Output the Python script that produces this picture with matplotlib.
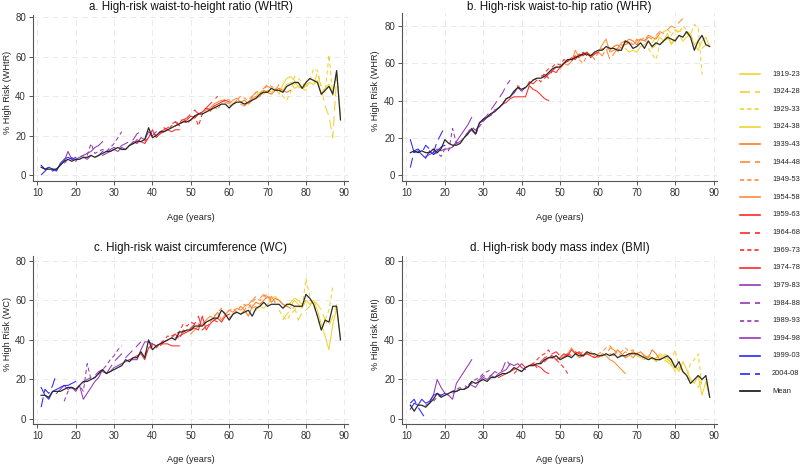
import matplotlib
matplotlib.use("Agg")
import matplotlib.pyplot as plt
from matplotlib.lines import Line2D
import numpy as np

plt.rcParams['font.family'] = ['Liberation Sans', 'DejaVu Sans']
plt.rcParams['lines.scale_dashes'] = False

# ---------------- data ----------------
ages = list(range(11, 90))
cohorts = ["1919-23", "1924-28", "1929-33", "1924-38", "1939-43", "1944-48", "1949-53",
           "1954-58", "1959-63", "1964-68", "1969-73", "1974-78", "1979-83", "1984-88",
           "1989-93", "1994-98", "1999-03", "2004-08"]
cohort_start = [76, 74, 73, 67, 63, 60, 55, 50, 46, 42, 38, 34, 27, 22, 17, 15, 11, 11]

whtr_mean = [4, 3, 3, 3, 3, 5, 7, 8, 7, 8, 8, 9, 9, 10, 9, 10, 11, 12, 12, 13,
             14, 13, 13, 15, 16, 17, 17, 18, 24, 19, 20, 22, 22, 23, 24, 25, 26, 27, 27, 28,
             30, 31, 31, 32, 33, 34, 35, 36, 36, 34, 36, 37, 37, 36, 37, 38, 39, 41, 42, 42,
             44, 43, 43, 42, 45, 46, 47, 47, 44, 47, 49, 48, 47, 41, 43, 45, 41, 53, 28]
whr_mean = [12, 13, 12, 13, 12, 12, 14, 12, 14, 19, 17, 16, 16, 17, 20, 22, 25, 22, 28, 30,
            31, 33, 34, 36, 38, 41, 42, 45, 47, 46, 47, 49, 51, 52, 52, 53, 55, 57, 58, 58,
            60, 62, 62, 63, 64, 65, 65, 64, 66, 67, 67, 69, 68, 68, 67, 67, 72, 71, 68, 69,
            71, 68, 72, 69, 71, 70, 72, 74, 73, 72, 75, 74, 77, 74, 67, 72, 75, 70, 69]
wc_mean = [12, 12, 11, 14, 14, 14, 15, 16, 16, 15, 17, 19, 19, 20, 21, 23, 25, 23, 24, 25,
           26, 27, 30, 29, 31, 31, 34, 31, 40, 35, 37, 38, 39, 40, 41, 40, 44, 44, 45, 45,
           47, 47, 47, 49, 50, 51, 51, 55, 53, 50, 53, 54, 53, 54, 55, 52, 56, 57, 59, 57,
           58, 58, 58, 56, 58, 58, 57, 57, 57, 63, 61, 58, 52, 45, 50, 49, 57, 57, 40]
bmi_mean = [7, 4, 7, 7, 6, 8, 10, 13, 11, 12, 13, 14, 14, 15, 15, 16, 19, 18, 19, 20,
            19, 21, 21, 22, 23, 23, 24, 26, 25, 24, 26, 27, 27, 28, 28, 30, 31, 31, 32, 30,
            31, 32, 31, 33, 32, 32, 34, 33, 33, 32, 32, 33, 32, 33, 31, 32, 32, 33, 33, 33,
            32, 31, 30, 31, 30, 30, 31, 32, 30, 26, 29, 24, 22, 18, 20, 22, 20, 22, 11]

whtr_cohorts = [
    [47, 46, 47, 44, 45, 47, 46, 48, 41, 44, 46, 42, 52, 30],
    [43, 46, 47, 44, 45, 43, 46, 47, 46, 52, 44, 35, 30, 19, 50],
    [44, 40, 38, 42, 50, 49, 47, 44, 48, 54, 53, 45, 42, 61, 40],
    [40, 42, 41, 43, 42, 44, 41, 46, 49, 50, 48, 45, 44, 43],
    [37, 38, 36, 38, 39, 40, 43, 42, 41, 43, 44, 43, 42, 43],
    [35, 36, 38, 36, 35, 37, 40, 42, 43, 44, 45, 44, 43, 46],
    [32, 35, 33, 37, 39, 38, 36, 38, 40, 39, 38, 40, 42, 41, 44, 46, 45, 44],
    [28, 29, 31, 32, 33, 34, 36, 37, 38, 37, 36, 38, 39, 37, 36, 37, 39, 40],
    [25, 26, 27, 28, 30, 29, 31, 32, 34, 33, 35, 36, 37, 38, 37],
    [22, 23, 24, 26, 27, 25, 28, 29, 31, 33, 31, 32, 34, 36, 38, 40],
    [17, 19, 22, 20, 21, 24, 23, 25, 27, 26, 29, 26, 28, 30, 25, 31, 32],
    [15, 16, 18, 17, 16, 19, 23, 19, 21, 22, 23, 22, 23, 23],
    [10, 11, 12, 13, 12, 14, 13, 15, 17, 16, 19, 18, 22, 20, 22],
    [9, 8, 10, 9, 10, 12, 11, 13, 14, 13, 15, 16, 17, 18, 21, 22],
    [6, 8, 9, 7, 9, 10, 10, 16, 11, 12, 13, 12, 14, 16, 19, 22],
    [3, 5, 7, 12, 8, 8, 9, 10, 11, 12, 14, 15, 17],
    [5, 3, 4, 3, 2, 6, 8, 9, 8, 9],
    [0, 2, 4, 2, 3, 5],
]
whr_cohorts = [
    [70, 72, 74, 71, 73, 75, 72, 74, 76, 70, 67, 72, 74, 69],
    [71, 74, 75, 77, 78, 76, 78, 77, 79, 76, 74, 70, 72, 68, 70],
    [68, 65, 62, 70, 72, 73, 75, 78, 76, 80, 78, 75, 81, 79, 54],
    [68, 66, 67, 66, 69, 70, 72, 68, 70, 74, 72, 76, 70, 73],
    [67, 69, 70, 68, 71, 73, 72, 70, 73, 72, 75, 74, 73, 76],
    [66, 64, 68, 62, 65, 68, 69, 70, 71, 69, 72, 73, 71, 74, 73, 75, 77, 76, 78, 80, 79, 82, 84],
    [62, 60, 64, 65, 62, 66, 68, 67, 69, 68, 66, 70, 69, 72, 70, 73, 72, 74],
    [57, 60, 59, 61, 67, 63, 65, 66, 64, 65, 66, 70, 73, 66, 67, 68, 71, 72],
    [52, 54, 56, 55, 58, 60, 61, 63, 62, 65, 64, 66, 63, 65, 66],
    [50, 49, 51, 53, 54, 52, 56, 58, 57, 60, 62, 61, 64, 63, 66, 64],
    [44, 48, 46, 47, 50, 51, 52, 50, 55, 57, 58, 60, 59, 62, 61, 63, 64],
    [36, 38, 39, 41, 42, 42, 42, 42, 48, 46, 45, 43, 41, 40],
    [24, 22, 28, 29, 31, 32, 35, 36, 38, 41, 42, 44, 47, 45, 47],
    [15, 17, 18, 20, 23, 26, 24, 27, 30, 32, 35, 38, 41, 44, 48, 51],
    [11, 12, 10, 14, 13, 25, 17, 18, 20, 23, 24, 22, 26, 29, 31, 33],
    [10, 11, 12, 14, 13, 14, 14, 15, 18, 21, 24, 27, 31],
    [19, 12, 13, 11, 9, 13, 11, 13, 15, 16],
    [4, 13, 14, 12, 16, 14, 12, 18, 22, 26],
]
wc_cohorts = [
    [57, 60, 58, 56, 60, 58, 60, 55, 48, 42, 35, 48, 56, 41],
    [50, 53, 55, 57, 50, 54, 55, 57, 60, 58, 55, 50, 47, 52, 58],
    [55, 52, 50, 53, 55, 57, 56, 71, 62, 58, 52, 45, 50, 55, 67],
    [55, 57, 56, 58, 61, 62, 60, 58, 57, 59, 61, 60, 58, 60],
    [53, 55, 52, 57, 59, 58, 60, 62, 59, 61, 60, 58, 57, 56],
    [51, 53, 55, 57, 55, 58, 60, 62, 61, 63, 60, 62, 59, 58],
    [49, 52, 54, 56, 53, 55, 56, 54, 57, 58, 56, 59, 61, 60, 62, 63, 60, 59],
    [43, 45, 47, 48, 50, 52, 51, 54, 50, 53, 55, 54, 56, 55, 57, 58, 56, 57],
    [41, 42, 43, 44, 45, 46, 45, 52, 45, 48, 50, 51, 49, 52, 53],
    [37, 39, 40, 42, 43, 40, 45, 44, 46, 48, 52, 45, 47, 48, 50, 49],
    [33, 35, 37, 36, 38, 40, 42, 41, 43, 44, 48, 47, 49, 48, 48, 47, 49],
    [30, 31, 32, 33, 30, 36, 38, 37, 38, 38, 38, 37, 37, 37],
    [24, 23, 24, 26, 27, 28, 29, 30, 30, 30, 35, 39, 39, 38, 37],
    [18, 20, 21, 22, 24, 25, 23, 26, 29, 31, 33, 31, 33, 35, 37, 39],
    [9, 14, 16, 15, 17, 14, 28, 20, 21, 23, 25, 27, 30, 32, 35, 37],
    [13, 15, 17, 15, 16, 14, 17, 10, 13, 16, 19, 21, 25],
    [16, 12, 10, 14, 15, 16, 17, 17, 18, 19],
    [6, 15, 13, 17, 23],
]
bmi_cohorts = [
    [30, 31, 30, 29, 27, 24, 29, 25, 20, 18, 22, 12, 19, 11],
    [30, 31, 32, 30, 29, 27, 25, 26, 24, 22, 20, 18, 16, 20, 22],
    [30, 31, 29, 30, 33, 32, 30, 35, 26, 24, 22, 28, 30, 33, 16],
    [32, 33, 34, 32, 31, 30, 32, 31, 30, 33, 32, 31, 28, 24],
    [33, 32, 35, 33, 31, 32, 34, 33, 34, 32, 31, 35, 33, 30],
    [31, 33, 32, 36, 35, 33, 32, 34, 33, 31, 33, 34, 32, 31],
    [33, 34, 33, 32, 31, 33, 34, 36, 37, 35, 33, 34, 36, 34, 35, 33, 32, 31],
    [30, 32, 33, 36, 33, 31, 32, 33, 34, 32, 31, 33, 32, 30, 29, 27, 25, 23],
    [29, 31, 32, 30, 31, 33, 32, 35, 33, 34, 32, 33, 32, 31, 32],
    [27, 28, 26, 29, 31, 32, 33, 34, 32, 31, 33, 32, 34, 33, 32, 31],
    [23, 25, 24, 26, 27, 28, 30, 32, 33, 35, 31, 30, 28, 26, 23],
    [21, 22, 23, 24, 25, 26, 28, 26, 27, 28, 27, 26, 24, 23],
    [17, 16, 19, 21, 20, 22, 21, 23, 24, 25, 28, 27, 28, 26, 25],
    [13, 14, 15, 17, 16, 18, 19, 20, 22, 21, 22, 24, 23, 25, 30, 27],
    [9, 11, 12, 13, 12, 14, 15, 16, 15, 17, 19, 20, 21, 23, 24, 25],
    [7, 8, 12, 20, 16, 13, 12, 10, 18, 21, 24, 27, 30],
    [5, 8, 7, 10, 8, 9, 12, 13, 12, 13],
    [8, 10, 6, 3, 0],
]

panel_titles = ["a. High-risk waist-to-height ratio (WHtR)", "b. High-risk waist-to-hip ratio (WHR)",
                "c. High-risk waist circumference (WC)", "d. High-risk body mass index (BMI)"]
panel_ylabels = ["% High Risk (WHtR)", "% High Risk (WHR)", "% High Risk (WC)", "% High risk (BMI)"]
panel_means = [whtr_mean, whr_mean, wc_mean, bmi_mean]
panel_cohorts = [whtr_cohorts, whr_cohorts, wc_cohorts, bmi_cohorts]
xticks = [10, 20, 30, 40, 50, 60, 70, 80, 90]
yticks = [0, 20, 40, 60, 80]

# ---------------- styles ----------------
YEL = '#F2D230'
ORA1 = '#FF7A22'
ORA2 = '#FF8C3A'
RED = '#FF2A2A'
PUR = '#9438B4'
BLU = '#2828FF'
SOLID = '-'
DASH = (0, (7.2, 3.6))
SHORT = (0, (3.0, 2.2))
cohort_colors = [YEL, YEL, YEL, YEL, ORA1, ORA2, ORA2, ORA2, RED, RED, RED, RED,
                 PUR, PUR, PUR, PUR, BLU, BLU]
cohort_styles = [SOLID, DASH, SHORT, SOLID, SOLID, DASH, SHORT, SOLID, SOLID, DASH, SHORT, SOLID,
                 SOLID, DASH, SHORT, SOLID, SOLID, DASH]

W, H = 800, 466
fig = plt.figure(figsize=(W / 100, H / 100), dpi=100)

# pixel boxes: left, top, right, bottom, ylim, xlim
boxes = [
    (33, 15, 348, 181, (-3.0, 81.2), (8.88, 90.96)),
    (402, 13, 717, 181, (-3.2, 87.0), (8.83, 90.9)),
    (33, 256, 348, 424, (-2.5, 82.4), (8.88, 90.96)),
    (402, 256, 717, 424, (-2.5, 82.4), (8.83, 90.9)),
]
title_y = [7, 7, 248, 248]
xlabel_y = [218, 218, 460, 460]
ylabel_x = [8, 376, 8, 376]

for p in range(4):
    l, t, r, b, yl, xl = boxes[p]
    ax = fig.add_axes([l / W, 1 - b / H, (r - l) / W, (b - t) / H])
    ax.set_xlim(*xl)
    ax.set_ylim(*yl)
    ax.set_xticks(xticks)
    ax.set_yticks(yticks)
    ax.grid(True, color='#E6E6E6', linestyle=(0, (4, 3)), linewidth=0.6)
    ax.set_axisbelow(True)
    for s in ['top', 'right']:
        ax.spines[s].set_visible(False)
    for s in ['left', 'bottom']:
        ax.spines[s].set_color('#555555')
        ax.spines[s].set_linewidth(0.8)
    ax.tick_params(axis='both', labelsize=7.0, colors='#555555', labelcolor='#333333',
                   length=3, width=0.7, pad=2)
    for k, vals in enumerate(panel_cohorts[p]):
        xs = ages[cohort_start[k] - 11: cohort_start[k] - 11 + len(vals)]
        ax.plot(xs, vals, color=cohort_colors[k], linestyle=cohort_styles[k], linewidth=0.75)
    ax.plot(ages, panel_means[p], color='#2a2a2a', linewidth=0.9)

    cx = (l + r) / 2
    fig.text(cx / W, 1 - title_y[p] / H, panel_titles[p], ha='center', va='center',
             fontsize=8.3, color='#111111')
    fig.text(cx / W, 1 - xlabel_y[p] / H, "Age (years)", ha='center', va='center',
             fontsize=6.6, color='#222222')
    fig.text(ylabel_x[p] / W, 1 - ((t + b) / 2 - 6) / H, panel_ylabels[p], ha='center',
             va='center', rotation=90, fontsize=6.6, color='#222222')

# legend
legend_labels = cohorts + ["Mean"]
legend_colors = cohort_colors + ['#111111']
legend_styles = cohort_styles + [SOLID]
for k, lab in enumerate(legend_labels):
    yy = 1 - (74 + k * 17.62) / H
    fig.add_artist(Line2D([740 / W, 760 / W], [yy, yy], transform=fig.transFigure,
                          color=legend_colors[k], linestyle=legend_styles[k], linewidth=1.2))
    fig.text(772 / W, yy, lab, ha='left', va='center', fontsize=5.4, color='#222222')

fig.savefig("out.png", dpi=100)
